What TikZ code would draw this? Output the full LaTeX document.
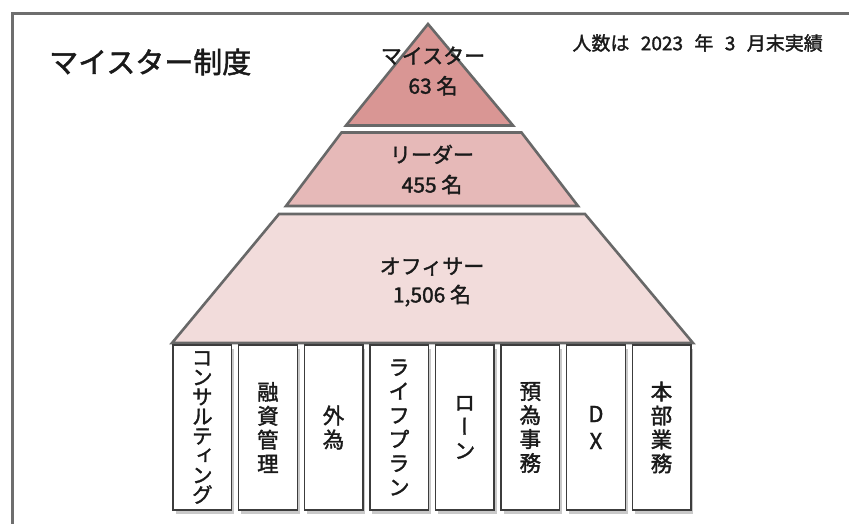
\documentclass[tikz,border=0pt]{standalone}
\usepackage{fontspec}
\setmainfont{Noto Sans CJK JP}
\newfontfamily\jpfont[FakeBold=1.6]{Noto Sans CJK JP}
\newfontfamily\vertjp[RawFeature=+vert,FakeBold=1.6]{Noto Sans CJK JP}
\usetikzlibrary{shadows}
\definecolor{framegray}{HTML}{6E6E6E}
\definecolor{edgegray}{HTML}{686868}
\definecolor{boxgray}{HTML}{3C3C3C}
\definecolor{lvlone}{HTML}{D99694}
\definecolor{lvltwo}{HTML}{E6B9B8}
\definecolor{lvlthree}{HTML}{F2DCDB}
\definecolor{inkc}{HTML}{1A1A1A}
\tikzset{
  level/.style={draw=edgegray, line width=2.6pt, line join=miter},
  lvltext/.style={text=inkc, align=center, inner sep=0pt, font=\jpfont\fontsize{21}{30}\selectfont},
  catbox/.style={draw=boxgray, line width=1.4pt, fill=white, minimum width=58.6pt,
    minimum height=165pt, inner sep=0pt, align=center, text=inkc,
    font=\vertjp\fontsize{21.5}{24}\selectfont,
    drop shadow={shadow xshift=2.5pt, shadow yshift=-3.5pt, opacity=0.35, fill=black!60}},
  tighttext/.style={font=\vertjp\fontsize{21}{19.6}\selectfont}
}
\begin{document}
\begin{tikzpicture}[x=1pt,y=-1pt]
\useasboundingbox (0,0) rectangle (849,524);
\clip (0,0) rectangle (849,524);
\fill[white] (0,0) rectangle (849,524);
% frame
\draw[framegray, line width=3pt] (12,14) rectangle (880,560);
% title
\node[anchor=west, text=inkc, inner sep=0pt, font=\jpfont\fontsize{29}{32}\selectfont] (title) at (49,62) {マイスター制度};
\node[anchor=east, text=inkc, inner sep=0pt, font=\jpfont\fontsize{19}{22}\selectfont] (note) at (823,43) {人数は\hspace{0.6em}2023\hspace{0.6em}年\hspace{0.6em}3\hspace{0.6em}月末実績};
% pyramid
\draw[level, fill=lvlone] (428,24) -- (513,125.5) -- (346,125.5) -- cycle;
\draw[level, fill=lvltwo] (341.5,132.5) -- (521.5,132.5) -- (578,206) -- (286,206) -- cycle;
\draw[level, fill=lvlthree] (279,214) -- (585,214) -- (693,343) -- (172,343) -- cycle;
\node[lvltext] (meister) at (433,71) {マイスター\\63 名};
\node[lvltext] (leader) at (432,169.5) {リーダー\\455 名};
\node[lvltext, font=\jpfont\fontsize{21}{28.5}\selectfont] (officer) at (432,282) {オフィサー\\1,506 名};
% boxes
\node[catbox, tighttext] (b1) at (202.3,427.5) {コ\\ン\\サ\\ル\\テ\\ィ\\ン\\グ};
\node[catbox] (b2) at (267.9,427.5) {融\\資\\管\\理};
\node[catbox] (b3) at (333.5,427.5) {外\\為};
\node[catbox] (b4) at (399.1,427.5) {ラ\\イ\\フ\\プ\\ラ\\ン};
\node[catbox] (b5) at (464.7,427.5) {ロ\\ー\\ン};
\node[catbox] (b6) at (530.3,427.5) {預\\為\\事\\務};
\node[catbox, font=\jpfont\fontsize{22}{27}\selectfont] (b7) at (595.9,427.5) {D\\X};
\node[catbox] (b8) at (661.5,427.5) {本\\部\\業\\務};
\end{tikzpicture}
\end{document}
